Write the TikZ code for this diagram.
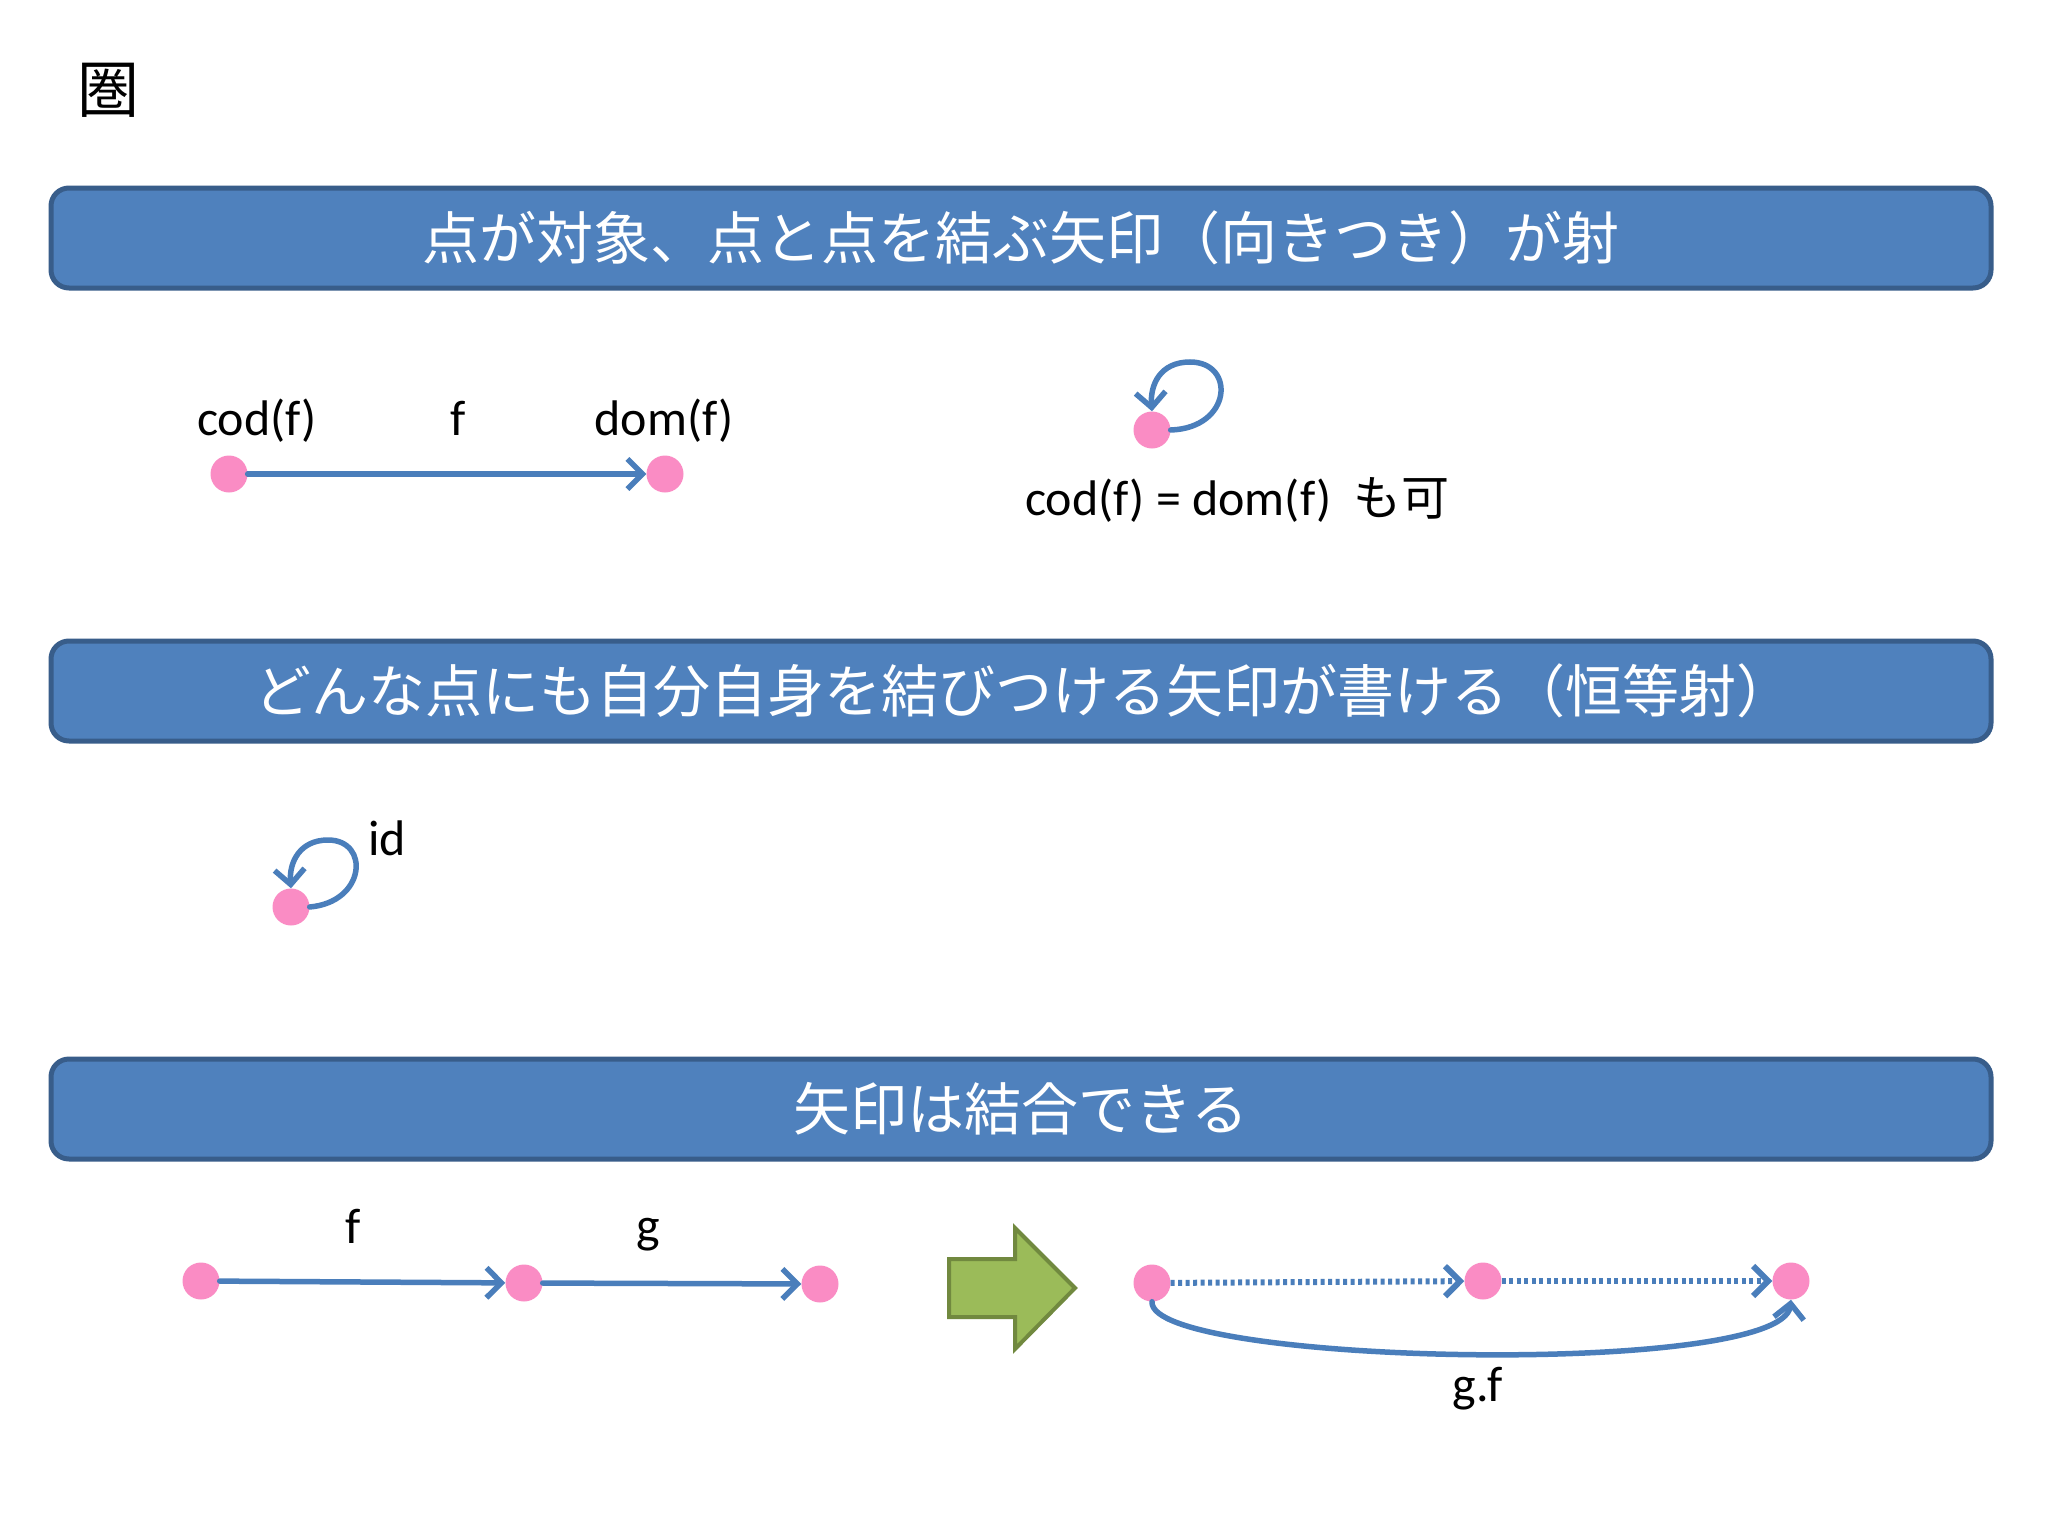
\documentclass[tikz,border=0pt]{standalone}
\usepackage{fontspec}
\setmainfont{Carlito}
\newfontfamily\cjk{Noto Sans CJK JP}
\usetikzlibrary{arrows.meta}
\definecolor{bfill}{HTML}{4F81BD}
\definecolor{bdraw}{HTML}{385D8A}
\definecolor{lblue}{HTML}{4A7EBB}
\definecolor{dotpink}{RGB}{250,140,196}
\definecolor{gfill}{HTML}{9BBB59}
\definecolor{gdraw}{HTML}{71893F}
\begin{document}
\begin{tikzpicture}[x=1pt,y=-1pt,
  banner/.style={draw=bdraw, fill=bfill, line width=5pt, rounded corners=18pt,
    minimum width=1940pt, minimum height=100pt, inner sep=0pt, text=white,
    font=\cjk\fontsize{57}{60}\selectfont},
  dot/.style={circle, fill=dotpink, minimum size=37pt, inner sep=0pt},
  lbl/.style={font=\fontsize{50}{55}\selectfont, anchor=base, inner sep=0pt},
  arr/.style={draw=lblue, line width=5.5pt, line cap=round,
    -{Straight Barb[length=15pt,width=30pt]}},
  dotarr/.style={arr, line width=6pt, line cap=butt, dash pattern=on 4pt off 3.5pt},
]
\useasboundingbox (0,0) rectangle (2048,1536);
\fill[white] (0,0) rectangle (2048,1536);

% title
\node[font=\cjk\fontsize{62}{62}\selectfont, inner sep=0pt] (title) at (108,90) {圏};

% banners
\node[banner] (b1) at (1021,238) {点が対象、点と点を結ぶ矢印（向きつき）が射};
\node[banner] (b2) at (1021,691) {\hspace*{6pt}どんな点にも自分自身を結びつける矢印が書ける（恒等射）};
\node[banner] (b3) at (1021,1109) {矢印は結合できる};

% section 1
\node[dot] (c1) at (229,474) {};
\node[dot] (d1) at (665,474) {};
\draw[arr] (c1) -- (d1);
\node[lbl] (lcod) at (257,435) {cod(f)};
\node[lbl] (lf1) at (458,435) {f};
\node[lbl] (ldom) at (664,435) {dom(f)};

\node[dot] (e1) at (1152,430) {};
\draw[arr] (e1.east) .. controls (1232,428) and (1236,362) .. (1190,362)
  .. controls (1160,362) and (1150,385) .. (e1.north);
\node[lbl, anchor=base west] (leq) at (1025,515) {cod(f) = dom(f)\hspace{22pt}{\cjk\fontsize{48}{50}\selectfont も可}};

% section 2
\node[dot] (i1) at (291,907) {};
\draw[arr] (i1.east) .. controls (366,902) and (370,840) .. (328,840)
  .. controls (300,840) and (289,862) .. (i1.north);
\node[lbl, anchor=base west] (lid) at (368,855) {id};

% section 3 left
\node[dot] (p1) at (201,1281) {};
\node[dot] (p2) at (524,1283) {};
\node[dot] (p3) at (820,1284) {};
\draw[arr] (p1) -- (p2);
\draw[arr] (p2) -- (p3);
\node[lbl] (lf2) at (353,1243) {f};
\node[lbl] (lg) at (648,1242) {g};

% big green arrow
\draw[draw=gdraw, fill=gfill, line width=4pt, line join=miter]
  (949,1259) -- (1015,1259) -- (1015,1228) -- (1075,1288) -- (1015,1349)
  -- (1015,1317) -- (949,1317) -- cycle;

% section 3 right
\node[dot] (q1) at (1152,1283) {};
\node[dot] (q2) at (1483,1281) {};
\node[dot] (q3) at (1791,1281) {};
\draw[dotarr] (q1) -- (q2);
\draw[dotarr] (q2) -- (q3);
\draw[arr] (q1.south) .. controls (1148,1365) and (1782,1378) .. (q3.south);
\node[lbl] (lgf) at (1478,1401) {g.f};
\end{tikzpicture}
\end{document}
